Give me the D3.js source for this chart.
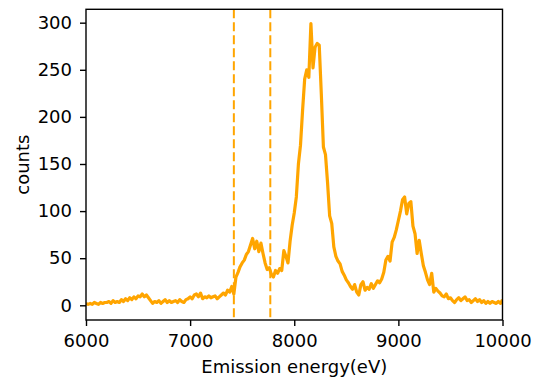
<!DOCTYPE html>
<html>
<head>
<meta charset="utf-8">
<script src="https://cdn.jsdelivr.net/npm/d3@7"></script>
<style>
  body { margin: 0; background: #fff; }
  svg { display: block; font-family: "DejaVu Sans", sans-serif; }
</style>
</head>
<body>
<script>
// Emission spectrum, counts sampled every 20 eV from 6000 to 10000 eV
const energyStart = 6000;
const energyStep = 20;
const counts = [
  2, 1, 2, 1, 3, 2, 1, 3, 2, 3,
  3, 4, 2, 5, 3, 4, 3, 6, 4, 7,
  5, 8, 6, 9, 7, 10, 9, 12, 9, 11,
  8, 5, 2, 4, 3, 5, 2, 4, 6, 3,
  5, 3, 4, 5, 3, 6, 4, 3, 6, 7,
  9, 7, 11, 12, 9, 13, 7, 9, 8, 10,
  8, 9, 10, 7, 9, 11, 13, 11, 16, 14,
  20, 12, 30, 35, 41, 45, 48, 54, 57, 64,
  71, 60, 68, 57, 66, 55, 45, 38, 40, 33,
  30, 37, 34, 39, 37, 58, 52, 45, 68, 85,
  98, 115, 150, 170, 207, 240, 250, 242, 299, 252,
  274, 278, 276, 224, 168, 160, 130, 95, 87, 62,
  52, 47, 44, 36, 32, 27, 24, 20, 17, 22,
  14, 11, 22, 25, 16, 19, 17, 23, 18, 22,
  26, 24, 28, 35, 48, 52, 47, 67, 72, 80,
  90, 100, 112, 115, 97, 108, 110, 84, 76, 55,
  69, 55, 42, 35, 27, 22, 34, 14, 18, 15,
  13, 10, 9, 12, 7, 8, 5, 3, 6, 8,
  5, 7, 9, 5, 6, 3, 5, 7, 4, 6,
  3, 5, 2, 4, 2, 4, 3, 2, 4, 2,
  6
];
const energy = counts.map((c, i) => energyStart + i * energyStep);

// dashed markers (energy window)
const markers = [7420, 7770];

const xTicks = [6000, 7000, 8000, 9000, 10000];
const yTicks = [0, 50, 100, 150, 200, 250, 300];

const width = 538;
const height = 381;
const margin = { left: 86, right: 502.5, top: 9.3, bottom: 320 };
const orange = "#ffa500";

const svg = d3
  .select("body")
  .append("svg")
  .attr("width", width)
  .attr("height", height);

const xScale = d3.scaleLinear().domain([6000, 10000]).range([margin.left, margin.right]);
const yScale = d3.scaleLinear().domain([-15.6, 314.2]).range([margin.bottom, margin.top]);

svg.append("clipPath").attr("id", "plot-clip")
  .append("rect")
  .attr("x", margin.left).attr("y", margin.top)
  .attr("width", margin.right - margin.left).attr("height", margin.bottom - margin.top);

const plot = svg.append("g").attr("clip-path", "url(#plot-clip)");

// spectrum
const line = d3.line()
  .x((d, i) => xScale(energy[i]))
  .y((d) => yScale(d));

plot.append("path")
  .datum(counts)
  .attr("fill", "none")
  .attr("stroke", orange)
  .attr("stroke-width", 3.2)
  .attr("stroke-linejoin", "round")
  .attr("d", line);

// vertical dashed lines
plot.selectAll(".marker")
  .data(markers)
  .join("line")
  .attr("class", "marker")
  .attr("x1", (d) => xScale(d))
  .attr("x2", (d) => xScale(d))
  .attr("y1", margin.top)
  .attr("y2", margin.bottom)
  .attr("stroke", orange)
  .attr("stroke-width", 2)
  .attr("stroke-dasharray", "9,4");

// axes
const xAxis = svg.append("g")
  .attr("transform", `translate(0,${margin.bottom})`)
  .call(d3.axisBottom(xScale).tickValues(xTicks).tickFormat(d3.format("d"))
    .tickSize(6).tickSizeOuter(0).tickPadding(8));

const yAxis = svg.append("g")
  .attr("transform", `translate(${margin.left},0)`)
  .call(d3.axisLeft(yScale).tickValues(yTicks).tickFormat(d3.format("d"))
    .tickSize(6).tickSizeOuter(0).tickPadding(8));

[xAxis, yAxis].forEach((ax) => {
  ax.select(".domain").remove();
  ax.selectAll(".tick line").attr("stroke", "#000").attr("stroke-width", 1.4);
  ax.selectAll(".tick text")
    .attr("fill", "#000")
    .style("font-family", "'DejaVu Sans', sans-serif")
    .style("font-size", "18px");
});

// frame
svg.append("rect")
  .attr("x", margin.left).attr("y", margin.top)
  .attr("width", margin.right - margin.left).attr("height", margin.bottom - margin.top)
  .attr("fill", "none")
  .attr("stroke", "#000")
  .attr("stroke-width", 1.4);

// labels
svg.append("text")
  .attr("x", (margin.left + margin.right) / 2)
  .attr("y", 373)
  .attr("text-anchor", "middle")
  .attr("font-size", "18px")
  .text("Emission energy(eV)");

svg.append("text")
  .attr("transform", `translate(28.5,${(margin.top + margin.bottom) / 2}) rotate(-90)`)
  .attr("text-anchor", "middle")
  .attr("font-size", "18px")
  .text("counts");
</script>
</body>
</html>
